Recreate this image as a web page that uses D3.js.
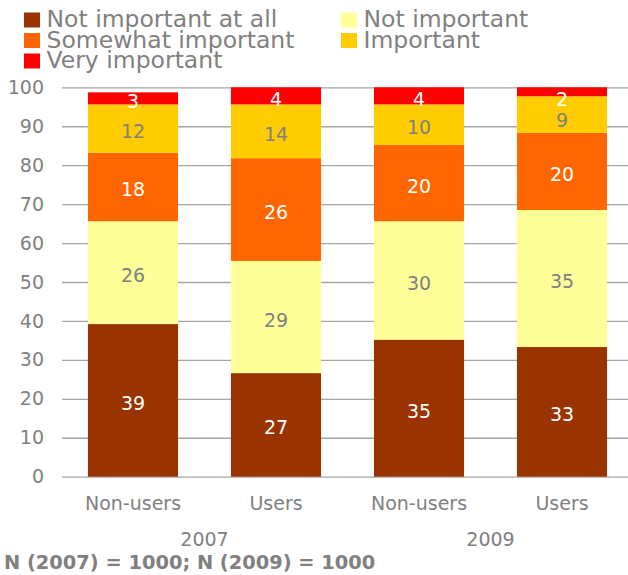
<!DOCTYPE html>
<html>
<head>
<meta charset="utf-8">
<script src="https://cdn.jsdelivr.net/npm/d3@7"></script>
<style>
  html, body { margin: 0; padding: 0; background: #fff; }
  svg { display: block; font-family: "DejaVu Sans", Verdana, sans-serif; }
</style>
</head>
<body>
<svg id="chart" width="628" height="575"></svg>
<script>
// ---- data ----
const categories = ["Non-users", "Users", "Non-users", "Users"];
const years = ["2007", "2007", "2009", "2009"];
const yearLabels = ["2007", "2009"];
const seriesNames = ["Not important at all", "Not important", "Somewhat important", "Important", "Very important"];
const notImportantAtAll = [39.2, 26.6, 35.2, 33.3];
const notImportant = [26.4, 28.8, 30.4, 35.2];
const somewhatImportant = [17.6, 26.4, 19.6, 19.8];
const important = [12.4, 13.8, 10.4, 9.4];
const veryImportant = [3.1, 4.4, 4.4, 2.3];
const yTicks = [0, 10, 20, 30, 40, 50, 60, 70, 80, 90, 100];
const footnote = "N (2007) = 1000; N (2009) = 1000";

const seriesValues = [notImportantAtAll, notImportant, somewhatImportant, important, veryImportant];
const colors = ["#993300", "#FFFF99", "#FF6600", "#FFCC00", "#FF0000"];
const labelColors = ["#ffffff", "#808080", "#ffffff", "#808080", "#ffffff"];
const gray = "#808080";

const svg = d3.select("#chart");

const x = d3.scaleBand()
  .domain(d3.range(categories.length))
  .range([61.5, 633.5])
  .paddingInner(0.37)
  .paddingOuter(0.185);

const y = d3.scaleLinear().domain([0, 100]).range([476.7, 87.3]);

// gridlines + y labels
const yAxis = d3.axisLeft(y)
  .tickValues(yTicks)
  .tickSize(-(628 - 62))
  .tickPadding(18)
  .tickFormat(d3.format("d"));

const gy = svg.append("g").attr("transform", "translate(62,0)").call(yAxis);
gy.select(".domain").remove();
gy.selectAll(".tick line").attr("stroke", "#a6a6a6").attr("stroke-width", 1.3);
gy.selectAll(".tick text")
  .attr("fill", gray)
  .style("font-family", "DejaVu Sans, Verdana, sans-serif")
  .style("font-size", "19px");

// stack
const table = categories.map((c, i) => {
  const row = { idx: i };
  seriesNames.forEach((s, k) => { row[s] = seriesValues[k][i]; });
  return row;
});
const stacked = d3.stack().keys(seriesNames)(table);

const layers = svg.append("g").selectAll("g")
  .data(stacked)
  .join("g")
  .attr("fill", (d, k) => colors[k]);

layers.selectAll("rect")
  .data(d => d)
  .join("rect")
  .attr("x", d => x(d.data.idx))
  .attr("width", x.bandwidth())
  .attr("y", d => y(d[1]))
  .attr("height", d => y(d[0]) - y(d[1]));

// data labels with top clamp and simple collision avoidance (top-down)
const labelG = svg.append("g")
  .style("font-family", "DejaVu Sans, Verdana, sans-serif")
  .style("font-size", "19px")
  .attr("text-anchor", "middle");

categories.forEach((c, i) => {
  let prevBase = y(100) + 18.7 - 21;
  for (let k = seriesNames.length - 1; k >= 0; k--) {
    const seg = stacked[k][i];
    const mid = (y(seg[0]) + y(seg[1])) / 2;
    const base = Math.max(mid + 9.5, prevBase + 21);
    prevBase = base;
    labelG.append("text")
      .attr("x", x(i) + x.bandwidth() / 2)
      .attr("y", base)
      .attr("fill", labelColors[k])
      .text(Math.round(seriesValues[k][i]));
  }
});

// category labels
svg.append("g").selectAll("text")
  .data(categories)
  .join("text")
  .attr("x", (d, i) => x(i) + x.bandwidth() / 2)
  .attr("y", 510)
  .attr("text-anchor", "middle")
  .attr("fill", gray)
  .style("font-size", "19px")
  .text(d => d);

// year group labels
svg.append("g").selectAll("text")
  .data(yearLabels)
  .join("text")
  .attr("x", yr => {
    const idxs = d3.range(years.length).filter(i => years[i] === yr);
    const a = x(idxs[0]) + x.bandwidth() / 2;
    const b = x(idxs[idxs.length - 1]) + x.bandwidth() / 2;
    return (a + b) / 2;
  })
  .attr("y", 546)
  .attr("text-anchor", "middle")
  .attr("fill", gray)
  .style("font-size", "19px")
  .text(d => d);

// footnote
svg.append("text")
  .attr("x", 4)
  .attr("y", 569)
  .attr("fill", gray)
  .style("font-size", "19.4px")
  .style("font-weight", "bold")
  .text(footnote);

// legend
const legendPos = [
  { x: 24, y: 12.5 },   // Not important at all
  { x: 341, y: 12.5 },  // Not important
  { x: 24, y: 33 },     // Somewhat important
  { x: 341, y: 33 },    // Important
  { x: 24, y: 53.5 }    // Very important
];
const legend = svg.append("g").selectAll("g")
  .data(seriesNames)
  .join("g")
  .attr("transform", (d, k) => `translate(${legendPos[k].x},${legendPos[k].y})`);
legend.append("rect")
  .attr("width", 16)
  .attr("height", 15)
  .attr("fill", (d, k) => colors[k]);
legend.append("text")
  .attr("x", 22.5)
  .attr("y", 14.5)
  .attr("fill", gray)
  .style("font-size", "23.5px")
  .text(d => d);
</script>
</body>
</html>
